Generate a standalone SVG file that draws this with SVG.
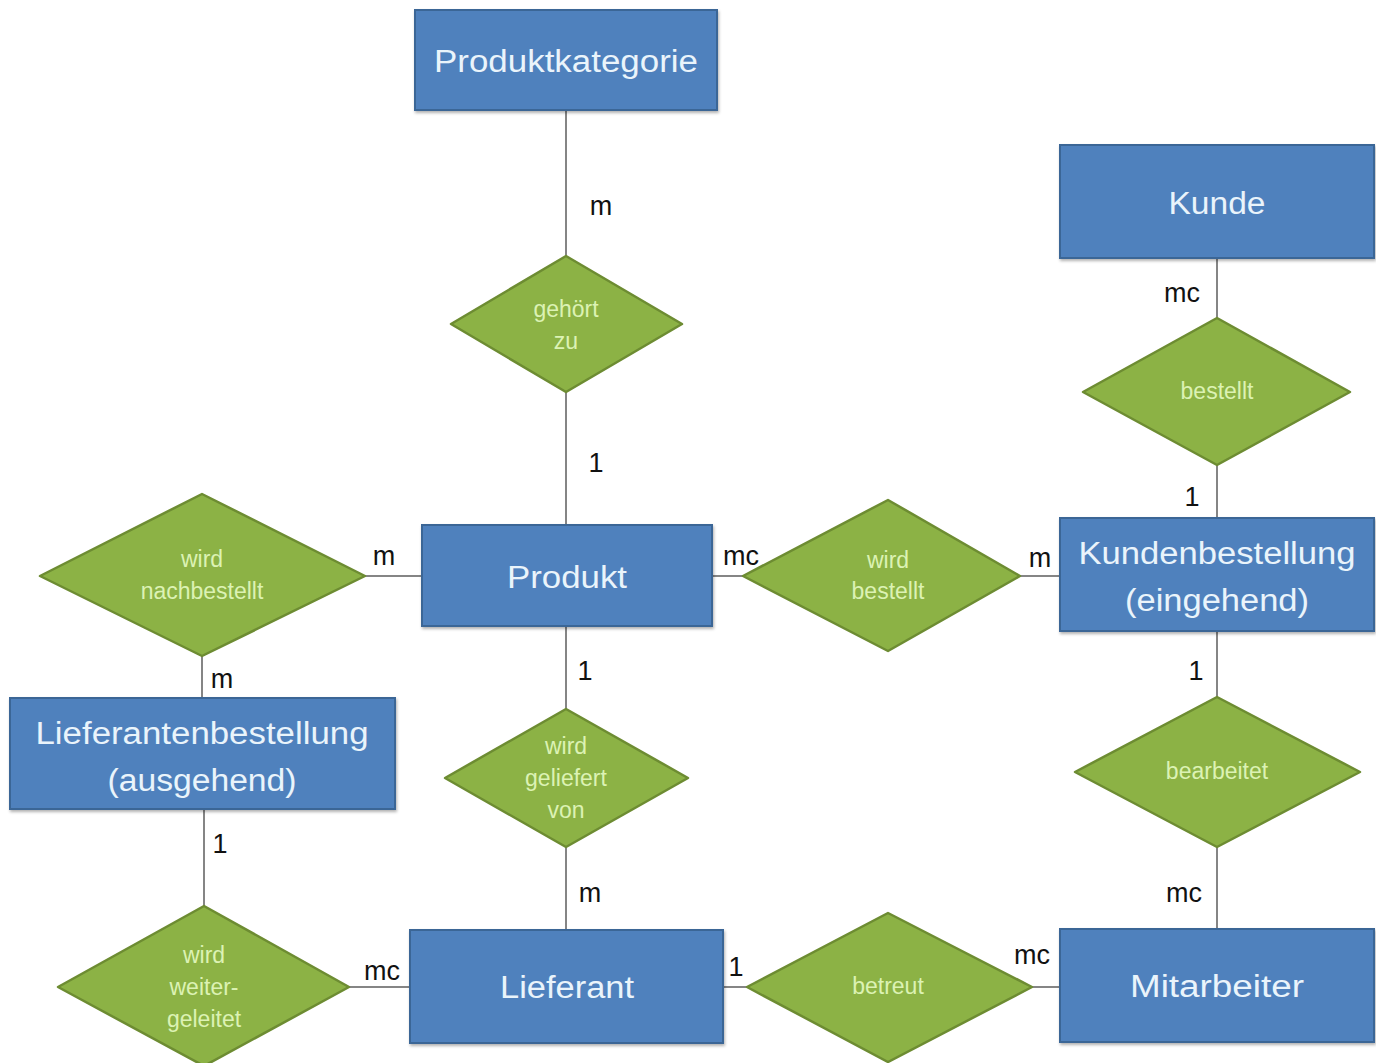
<svg xmlns="http://www.w3.org/2000/svg" width="1376" height="1063" viewBox="0 0 1376 1063">
<style>
.ent{fill:#4f81bd;stroke:#3b6696;stroke-width:2}
.rel{fill:#8cb245;stroke:#6d8c32;stroke-width:2.5;stroke-linejoin:round}
.et{font-family:"Liberation Sans",Arial,sans-serif;font-size:31px;fill:#eaf4fb;text-anchor:middle}
.rt{font-family:"Liberation Sans",Arial,sans-serif;font-size:23px;fill:#dcf2b4;text-anchor:middle}
.lbl{font-family:"Liberation Sans",Arial,sans-serif;font-size:27px;fill:#111;text-anchor:middle}
.con line{stroke:#858585;stroke-width:2}
</style>
<defs>
<filter id="sh" x="-5%" y="-5%" width="110%" height="115%"><feDropShadow dx="1" dy="2" stdDeviation="1.5" flood-color="#000" flood-opacity="0.3"/></filter>
</defs>
<rect width="1376" height="1063" fill="#fff"/>
<g id="connectors" class="con">
<line x1="566" y1="110" x2="566" y2="256"/>
<line x1="566" y1="392" x2="566" y2="525"/>
<line x1="1217" y1="258" x2="1217" y2="318"/>
<line x1="1217" y1="465" x2="1217" y2="518"/>
<line x1="365" y1="576" x2="422" y2="576"/>
<line x1="202" y1="656" x2="202" y2="698"/>
<line x1="712" y1="576" x2="743" y2="576"/>
<line x1="1020" y1="576" x2="1060" y2="576"/>
<line x1="566" y1="626" x2="566" y2="709"/>
<line x1="566" y1="847" x2="566" y2="930"/>
<line x1="1217" y1="631" x2="1217" y2="697"/>
<line x1="1217" y1="847" x2="1217" y2="929"/>
<line x1="204" y1="809" x2="204" y2="906"/>
<line x1="349" y1="987" x2="410" y2="987"/>
<line x1="723" y1="987" x2="747" y2="987"/>
<line x1="1032" y1="987" x2="1060" y2="987"/>
</g>
<g id="labels">
<text class="lbl" x="601" y="215">m</text>
<text class="lbl" x="596" y="472">1</text>
<text class="lbl" x="1182" y="302">mc</text>
<text class="lbl" x="1192" y="506">1</text>
<text class="lbl" x="384" y="565">m</text>
<text class="lbl" x="741" y="565">mc</text>
<text class="lbl" x="1040" y="567">m</text>
<text class="lbl" x="222" y="688">m</text>
<text class="lbl" x="585" y="680">1</text>
<text class="lbl" x="1196" y="680">1</text>
<text class="lbl" x="220" y="853">1</text>
<text class="lbl" x="590" y="902">m</text>
<text class="lbl" x="1184" y="902">mc</text>
<text class="lbl" x="382" y="980">mc</text>
<text class="lbl" x="736" y="976">1</text>
<text class="lbl" x="1032" y="964">mc</text>
</g>
<g id="produktkategorie"><rect class="ent" filter="url(#sh)" x="415" y="10" width="302" height="100"/><text class="et" x="566" y="72" textLength="264" lengthAdjust="spacingAndGlyphs">Produktkategorie</text></g>
<g id="kunde"><rect class="ent" filter="url(#sh)" x="1060" y="145" width="314" height="113"/><text class="et" x="1217" y="214" textLength="97" lengthAdjust="spacingAndGlyphs">Kunde</text></g>
<g id="produkt"><rect class="ent" filter="url(#sh)" x="422" y="525" width="290" height="101"/><text class="et" x="567" y="588" textLength="120" lengthAdjust="spacingAndGlyphs">Produkt</text></g>
<g id="kundenbestellung"><rect class="ent" filter="url(#sh)" x="1060" y="518" width="314" height="113"/><text class="et" x="1217" y="564" textLength="277" lengthAdjust="spacingAndGlyphs">Kundenbestellung</text><text class="et" x="1217" y="611" textLength="184" lengthAdjust="spacingAndGlyphs">(eingehend)</text></g>
<g id="lieferantenbestellung"><rect class="ent" filter="url(#sh)" x="10" y="698" width="385" height="111"/><text class="et" x="202" y="744" textLength="333" lengthAdjust="spacingAndGlyphs">Lieferantenbestellung</text><text class="et" x="202" y="791" textLength="189" lengthAdjust="spacingAndGlyphs">(ausgehend)</text></g>
<g id="lieferant"><rect class="ent" filter="url(#sh)" x="410" y="930" width="313" height="113"/><text class="et" x="567" y="998" textLength="134" lengthAdjust="spacingAndGlyphs">Lieferant</text></g>
<g id="mitarbeiter"><rect class="ent" filter="url(#sh)" x="1060" y="929" width="314" height="113"/><text class="et" x="1217" y="997" textLength="174" lengthAdjust="spacingAndGlyphs">Mitarbeiter</text></g>
<g id="gehoert-zu"><polygon class="rel" points="566,256 682,324 566,392 451,324"/><text class="rt" x="566" y="317">gehört</text><text class="rt" x="566" y="349">zu</text></g>
<g id="bestellt"><polygon class="rel" points="1217,318 1350,392 1217,465 1083,392"/><text class="rt" x="1217" y="399">bestellt</text></g>
<g id="wird-nachbestellt"><polygon class="rel" points="202,494 365,576 202,656 40,576"/><text class="rt" x="202" y="567">wird</text><text class="rt" x="202" y="599">nachbestellt</text></g>
<g id="wird-bestellt"><polygon class="rel" points="888,500 1020,576 888,651 743,576"/><text class="rt" x="888" y="568">wird</text><text class="rt" x="888" y="599">bestellt</text></g>
<g id="wird-geliefert-von"><polygon class="rel" points="566,709 688,778 566,847 445,778"/><text class="rt" x="566" y="754">wird</text><text class="rt" x="566" y="786">geliefert</text><text class="rt" x="566" y="818">von</text></g>
<g id="bearbeitet"><polygon class="rel" points="1217,697 1360,772 1217,847 1075,772"/><text class="rt" x="1217" y="779">bearbeitet</text></g>
<g id="wird-weitergeleitet"><polygon class="rel" points="204,906 349,987 204,1066 58,987"/><text class="rt" x="204" y="963">wird</text><text class="rt" x="204" y="995">weiter-</text><text class="rt" x="204" y="1027">geleitet</text></g>
<g id="betreut"><polygon class="rel" points="888,913 1032,987 888,1062 747,987"/><text class="rt" x="888" y="994">betreut</text></g>
</svg>
